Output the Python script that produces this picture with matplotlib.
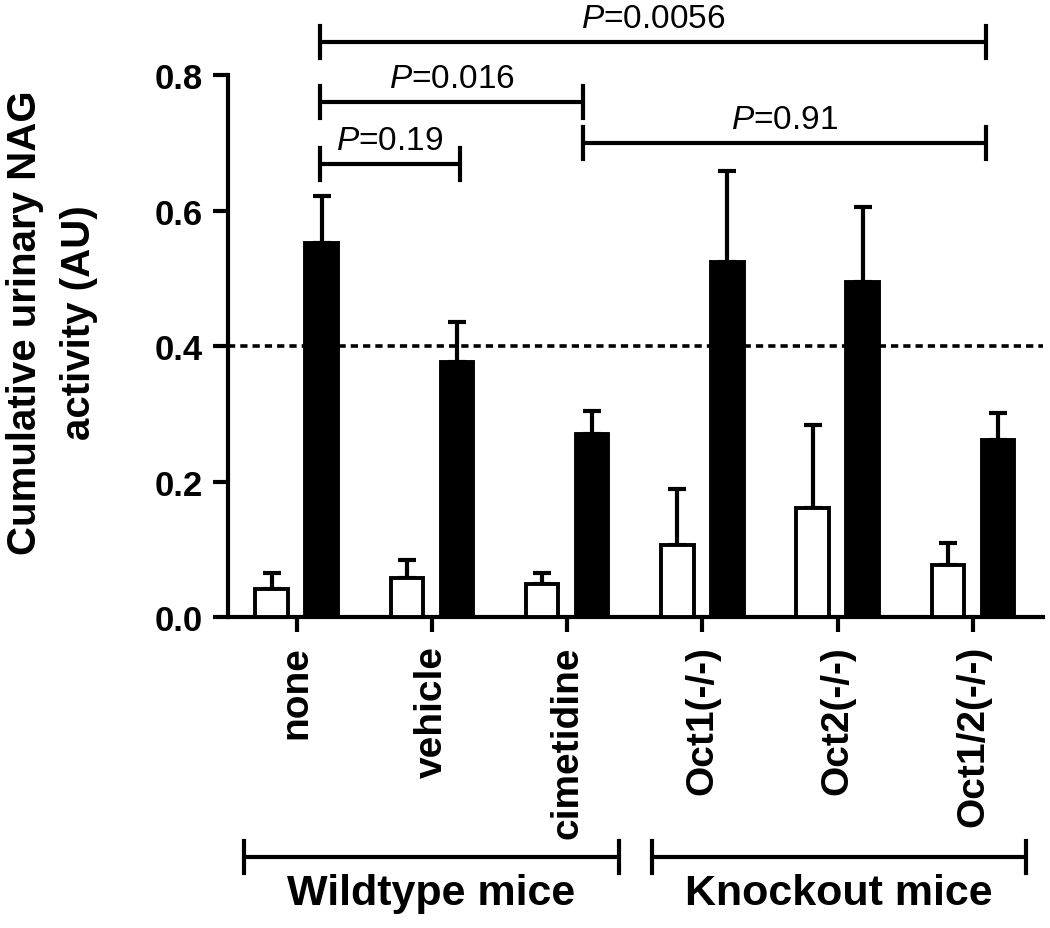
import matplotlib
matplotlib.use("Agg")
import matplotlib.pyplot as plt
import numpy as np

# data
groups = ["none", "vehicle", "cimetidine", "Oct1(-/-)", "Oct2(-/-)", "Oct1/2(-/-)"]
white_vals = [0.042, 0.058, 0.049, 0.107, 0.162, 0.077]
white_err = [0.023, 0.026, 0.017, 0.082, 0.121, 0.032]
black_vals = [0.552, 0.376, 0.270, 0.524, 0.494, 0.262]
black_err = [0.070, 0.059, 0.035, 0.134, 0.111, 0.039]
threshold = 0.4

# comparisons: (x start, x end, bracket height, label)
p_start = [0.17, 0.17, 2.12, 0.17]
p_end = [5.10, 2.12, 5.10, 1.21]
p_height = [0.849, 0.760, 0.700, 0.669]
p_labels = ["0.0056", "0.016", "0.91", "0.19"]

# group brackets under the axis
group_names = ["Wildtype mice", "Knockout mice"]
group_start = [-0.39, 2.63]
group_end = [2.38, 5.39]

plt.rcParams["font.family"] = ["Liberation Sans", "DejaVu Sans"]
plt.rcParams["mathtext.fontset"] = "custom"
plt.rcParams["mathtext.it"] = "Liberation Sans:italic"
plt.rcParams["mathtext.rm"] = "Liberation Sans"

fig = plt.figure(figsize=(10.5, 9.29), dpi=100)
ax = fig.add_axes([0.2171, 0.3344, 0.7762, 0.5838])

x = np.arange(len(groups))
w = 0.24
off = 0.185

ax.axhline(threshold, color="k", lw=2.6, ls=(0, (2, 1.4)), zorder=1)

ax.bar(x - off, white_vals, w, color="white", edgecolor="k", linewidth=2.8, zorder=3)
ax.bar(x + off, black_vals, w, color="k", edgecolor="k", linewidth=2.8, zorder=3)
ax.errorbar(x - off, white_vals, yerr=[np.zeros(len(x)), white_err], fmt="none",
            ecolor="k", elinewidth=3, capsize=6.5, capthick=3, zorder=2)
ax.errorbar(x + off, black_vals, yerr=[np.zeros(len(x)), black_err], fmt="none",
            ecolor="k", elinewidth=3, capsize=6.5, capthick=3, zorder=2)

ax.set_xlim(-0.508, 5.518)
ax.set_ylim(0, 0.8)

for s in ["top", "right"]:
    ax.spines[s].set_visible(False)
for s in ["left", "bottom"]:
    ax.spines[s].set_linewidth(3)

ax.set_yticks([0, 0.2, 0.4, 0.6, 0.8])
ax.set_yticklabels(["0.0", "0.2", "0.4", "0.6", "0.8"], fontsize=25, fontweight="bold")
ax.set_xticks(x)
ax.set_xticklabels(groups, rotation=90, fontsize=28, fontweight="bold")
ax.tick_params(axis="both", length=11, width=3)
ax.tick_params(axis="y", pad=7)
ax.tick_params(axis="x", pad=9)

fig.text(52 / 1050, 0.653, "Cumulative urinary NAG\nactivity (AU)", rotation=90,
         ha="center", va="center", fontsize=29, fontweight="bold",
         multialignment="center", linespacing=1.55)

cap = 0.0236
for x0, x1, h, lab in zip(p_start, p_end, p_height, p_labels):
    ax.plot([x0, x1], [h, h], color="k", lw=3, clip_on=False, solid_capstyle="butt")
    ax.plot([x0, x0], [h - cap, h + cap], color="k", lw=3, clip_on=False)
    ax.plot([x1, x1], [h - cap, h + cap], color="k", lw=3, clip_on=False)
    ax.text((x0 + x1) / 2, h + 0.012, r"$\mathit{P}$=" + lab, ha="center", va="bottom",
            fontsize=24, clip_on=False)

gy = -0.354
for name, x0, x1 in zip(group_names, group_start, group_end):
    ax.plot([x0, x1], [gy, gy], color="k", lw=3, clip_on=False, solid_capstyle="butt")
    ax.plot([x0, x0], [gy - cap, gy + cap], color="k", lw=3, clip_on=False)
    ax.plot([x1, x1], [gy - cap, gy + cap], color="k", lw=3, clip_on=False)
    ax.text((x0 + x1) / 2, gy - 0.053, name, ha="center", va="center",
            fontsize=31, fontweight="bold")

fig.savefig("out.png", dpi=100)
